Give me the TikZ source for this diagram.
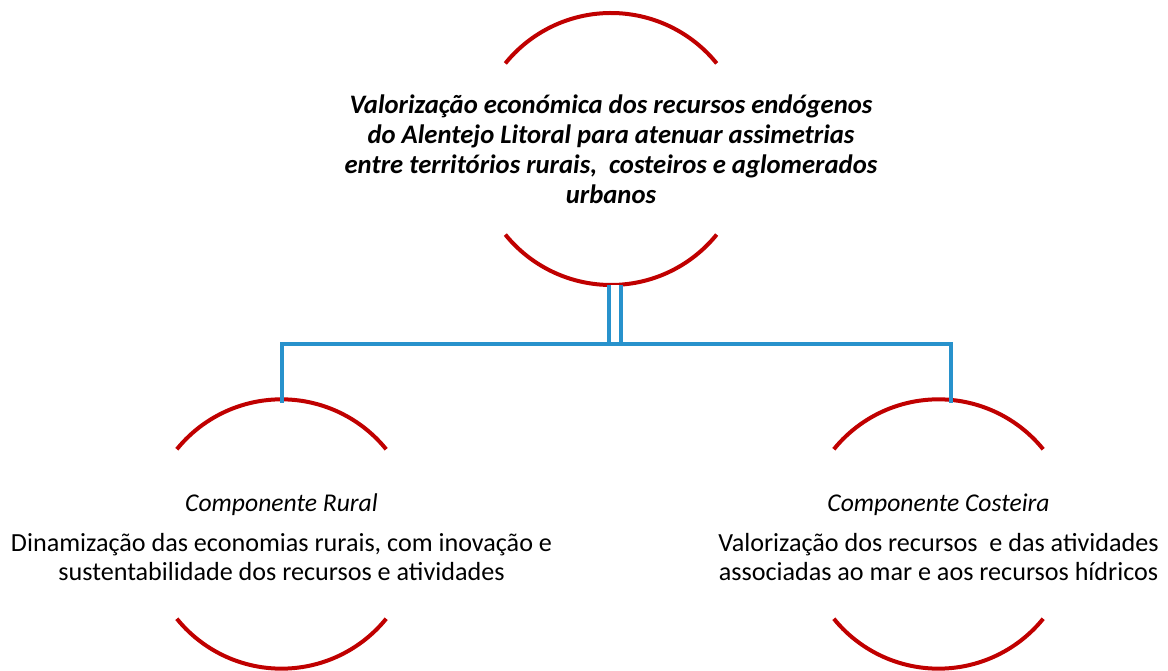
\documentclass[tikz,border=0pt]{standalone}
\usepackage{fontspec}
\setmainfont{Carlito}
\usetikzlibrary{calc, positioning}
\definecolor{arcred}{RGB}{192, 0, 0}
\definecolor{linkblue}{RGB}{40, 146, 204}

\begin{document}
\begin{tikzpicture}[x=0.75pt, y=0.75pt,
    goaltext/.style={align=center, inner sep=0pt, minimum height=204pt,
        font=\fontsize{20}{22.5}\selectfont\bfseries\itshape},
    comptext/.style={align=center, inner sep=0pt, minimum height=202pt,
        font=\fontsize{19.6}{21.5}\selectfont},
    ring/.style={arcred, line width=3pt},
    link/.style={linkblue, line width=3pt}]

    % Canvas
    \useasboundingbox (0,0) rectangle (1168,671);

    % Main goal
    \node[goaltext] (goal) at (611,522) {Valorização económica dos recursos endógenos\\
        do Alentejo Litoral para atenuar assimetrias\\
        entre territórios rurais,\ \ costeiros e aglomerados\\
        urbanos};

    % Components
    \node[comptext] (rural) at (281.5,134) {{\fontsize{19.2}{20}\selectfont\itshape Componente Rural}\\[8.5pt]
        Dinamização das economias rurais, com inovação e\\
        sustentabilidade dos recursos e atividades};
    \node[comptext] (coast) at (938.5,134) {{\fontsize{19.2}{20}\selectfont\itshape Componente Costeira}\\[8.5pt]
        Valorização dos recursos\ \ e das atividades\\
        associadas ao mar e aos recursos hídricos};

    % Arcs above and below each text
    \foreach \n/\r/\dy in {goal/102pt/0pt, rural/101pt/2.25pt, coast/101pt/2.25pt} {
        \draw[ring] ($(\n.center)+(0,\dy)+(141:\r)$) arc[start angle=141, end angle=39, radius=\r];
        \draw[ring] ($(\n.center)+(0,\dy)+(219:\r)$) arc[start angle=219, end angle=321, radius=\r];
    }

    % Connectors
    \coordinate (split) at (615,327);
    \draw[link, double=white, double distance=6pt] (goal.south -| split) -- (split);
    \draw[link] ([yshift=-0.5pt]rural.north) |- (split) -| ([shift={(9pt,-0.5pt)}]coast.north);
\end{tikzpicture}
\end{document}
